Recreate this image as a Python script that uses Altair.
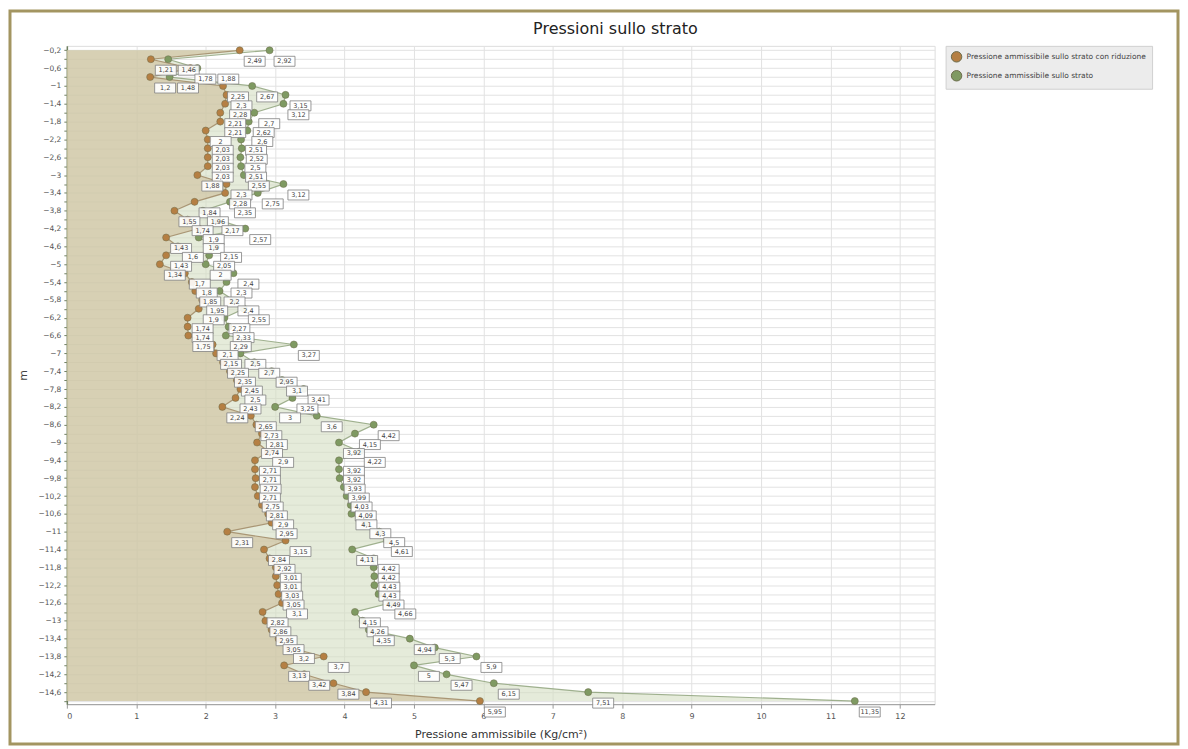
import altair as alt
import pandas as pd

# ---------------- data ----------------
depth = [-0.2, -0.4, -0.6, -0.8, -1.0, -1.2, -1.4, -1.6, -1.8, -2.0,
         -2.2, -2.4, -2.6, -2.8, -3.0, -3.2, -3.4, -3.6, -3.8, -4.0,
         -4.2, -4.4, -4.6, -4.8, -5.0, -5.2, -5.4, -5.6, -5.8, -6.0,
         -6.2, -6.4, -6.6, -6.8, -7.0, -7.2, -7.4, -7.6, -7.8, -8.0,
         -8.2, -8.4, -8.6, -8.8, -9.0, -9.2, -9.4, -9.6, -9.8, -10.0,
         -10.2, -10.4, -10.6, -10.8, -11.0, -11.2, -11.4, -11.6, -11.8, -12.0,
         -12.2, -12.4, -12.6, -12.8, -13.0, -13.2, -13.4, -13.6, -13.8, -14.0,
         -14.2, -14.4, -14.6, -14.8]

press_riduzione = [2.49, 1.21, 1.78, 1.20, 2.25, 2.30, 2.28, 2.21, 2.21, 2.00,
                   2.03, 2.03, 2.03, 2.03, 1.88, 2.30, 2.28, 1.84, 1.55, 1.74,
                   1.90, 1.43, 1.60, 1.43, 1.34, 1.70, 1.80, 1.85, 1.95, 1.90,
                   1.74, 1.74, 1.75, 2.10, 2.15, 2.25, 2.35, 2.45, 2.50, 2.43,
                   2.24, 2.65, 2.73, 2.81, 2.74, 2.90, 2.71, 2.71, 2.72, 2.71,
                   2.75, 2.81, 2.90, 2.95, 2.31, 3.15, 2.84, 2.92, 3.01, 3.01,
                   3.03, 3.05, 3.10, 2.82, 2.86, 2.95, 3.05, 3.20, 3.70, 3.13,
                   3.42, 3.84, 4.31, 5.95]

press_strato = [2.92, 1.46, 1.88, 1.48, 2.67, 3.15, 3.12, 2.70, 2.62, 2.60,
                2.51, 2.52, 2.50, 2.51, 2.55, 3.12, 2.75, 2.35, 1.96, 2.17,
                2.57, 1.90, 2.15, 2.05, 2.00, 2.40, 2.30, 2.20, 2.40, 2.55,
                2.27, 2.33, 2.29, 3.27, 2.50, 2.70, 2.95, 3.10, 3.41, 3.25,
                3.00, 3.60, 4.42, 4.15, 3.92, 4.22, 3.92, 3.92, 3.93, 3.99,
                4.03, 4.09, 4.10, 4.30, 4.50, 4.61, 4.11, 4.42, 4.42, 4.43,
                4.43, 4.49, 4.66, 4.15, 4.26, 4.35, 4.94, 5.30, 5.90, 5.00,
                5.47, 6.15, 7.51, 11.35]

series_names = ["Pressione ammissibile sullo strato con riduzione",
                "Pressione ammissibile sullo strato"]
series_colors = ["#b57f43", "#7f9a62"]
line_colors = ["#a08a66", "#8fa37c"]
x_ticks = [0, 1, 2, 3, 4, 5, 6, 7, 8, 9, 10, 11, 12]

title_text = "Pressioni sullo strato"
x_title = "Pressione ammissibile (Kg/cm²)"
y_title = "m"


def it_label(v):
    s = f"{v:.2f}".rstrip("0").rstrip(".")
    return s.replace(".", ",")


rows = []
for d, a, b in zip(depth, press_riduzione, press_strato):
    rows.append({"depth": d, "value": a, "lx": a, "serie": series_names[0],
                 "label": it_label(a)})
    # the green label sits just right of the brown one when the two would collide
    rows.append({"depth": d, "value": b, "lx": max(b, a + 0.33), "serie": series_names[1],
                 "label": it_label(b)})
df = pd.DataFrame(rows)

# ---------------- scales / axes ----------------
x_scale = alt.Scale(domain=[0, 12.5], nice=False, zero=True)
y_scale = alt.Scale(domain=[-14.87, -0.1], nice=False, zero=False)

x_axis = alt.Axis(values=x_ticks, title=x_title, grid=True,
                  gridColor="#e2e2e2", labelFontSize=8, labelColor="#555",
                  tickColor="#999", tickSize=4, domainColor="#9a9a9a",
                  titleFontSize=11, titleFontWeight="normal", titleColor="#333",
                  titleFont="DejaVu Sans", labelFont="DejaVu Sans",
                  titlePadding=8, labelPadding=4)
x_enc = alt.X("value:Q", scale=x_scale, stack=None, axis=x_axis)
x_lab = alt.X("lx:Q", scale=x_scale, axis=x_axis)
y_enc = alt.Y("depth:Q", scale=y_scale,
              axis=alt.Axis(values=depth, title=y_title, grid=True, gridColor="#e2e2e2",
                            labelExpr="(round(-datum.value*10) - 2) % 4 == 0 ? replace(format(datum.value, '.1~f'), '.', ',') : ''",
                            labelFontSize=7.5, labelColor="#555", tickColor="#6f8060",
                            tickSize=3, domainColor="#6f8060", domainWidth=1.5,
                            titleFontSize=11, titleFontWeight="normal", titleColor="#444",
                            titleFont="DejaVu Sans", labelFont="DejaVu Sans",
                            titlePadding=9, labelPadding=3))

base = alt.Chart(df)

frame = alt.Chart(pd.DataFrame({"f": [0]})).mark_rect(
    fillOpacity=0, stroke="#a39561", strokeWidth=3
).encode(x=alt.value(-57), x2=alt.value(1114), y=alt.value(-35), y2=alt.value(700))

title_layer = alt.Chart(pd.DataFrame({"t": [title_text]})).mark_text(
    fontSize=16, font="DejaVu Sans", color="#222", align="center", baseline="middle"
).encode(x=alt.value(550), y=alt.value(-17), text="t:N")

area_green = base.transform_filter(alt.datum.serie == series_names[1]).mark_area(
    orient="horizontal", color="#d3ddc2", opacity=0.6
).encode(x=x_enc, y=y_enc)

area_brown = base.transform_filter(alt.datum.serie == series_names[0]).mark_area(
    orient="horizontal", color="#cdbe9b", opacity=0.6
).encode(x=x_enc, y=y_enc)

lines = base.mark_line(strokeWidth=1.2, opacity=0.85).encode(
    x=x_enc, y=y_enc,
    stroke=alt.Stroke("serie:N", scale=alt.Scale(domain=series_names, range=line_colors),
                      legend=None),
    order=alt.Order("depth:Q", sort="descending"),
    detail="serie:N",
)

color_enc = alt.Color("serie:N", scale=alt.Scale(domain=series_names, range=series_colors),
                      legend=alt.Legend(title=None, orient="none", legendX=881, legendY=0,
                                        fillColor="#ececec", strokeColor="#d0d0d0",
                                        padding=5, labelFontSize=7.5, labelColor="#444",
                                        labelFont="DejaVu Sans", labelLimit=400,
                                        symbolSize=110, symbolType="circle",
                                        symbolStrokeWidth=1, rowPadding=3))

points = base.mark_point(filled=True, size=50, opacity=1, stroke="#6b6b4b",
                         strokeWidth=0.5).encode(x=x_enc, y=y_enc, color=color_enc)

boxes = base.mark_rect(width=21, height=10, xOffset=15, yOffset=11, fill="white",
                       fillOpacity=0.9, stroke="#808080", strokeWidth=0.8).encode(
    x=x_lab, y=y_enc)

texts = base.mark_text(dx=15, dy=11, fontSize=6.5, font="DejaVu Sans", color="#444",
                       align="center", baseline="middle").encode(
    x=x_lab, y=y_enc, text="label:N")

chart = alt.layer(frame, title_layer, area_green, area_brown, lines, points, boxes,
                  texts).resolve_scale(
    stroke="independent", color="independent"
).properties(
    width=870, height=660,
    autosize=alt.AutoSizeParams(type="none"),
    padding={"left": 59, "top": 37, "right": 246, "bottom": 43},
).configure_view(stroke="#c8c8c8", strokeWidth=1).configure(background="white")

chart.save("out.html", embed_options={"renderer": "svg", "actions": False})
